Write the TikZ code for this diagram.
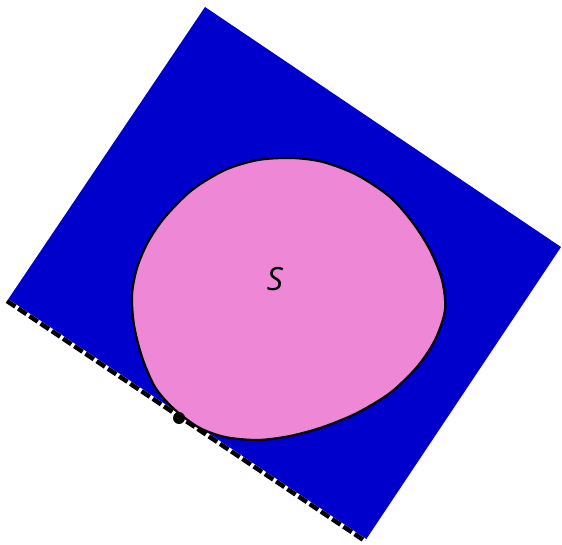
\documentclass[tikz,border=0pt]{standalone}
\usepackage{fontspec}
\setsansfont{Open Sans}
\definecolor{halfblue}{HTML}{0000CC}
\definecolor{setpink}{HTML}{EE88D6}

\begin{document}
\begin{tikzpicture}[x=1pt,y=-1pt,
  halfplane/.style={fill=halfblue,draw=none},
  edgeline/.style={line width=4.5pt,dash pattern=on 10pt off 3.5pt},
  setregion/.style={fill=setpink,draw=black,line width=2.2pt},
  touchdot/.style={circle,fill=black,inner sep=0pt,minimum size=12pt},
  setlabel/.style={font=\sffamily\itshape\fontsize{32}{34}\selectfont,inner sep=0pt}]
  \useasboundingbox (0,0) rectangle (562,545);
  \coordinate (top) at (205,7);
  \coordinate (right) at (561,247);
  \coordinate (bottom) at (365,541);
  \coordinate (left) at (7,301);
  \fill[halfplane] (top)--(right)--(bottom)--(left)--cycle;
  \draw[white,line width=4.5pt] (left)--(bottom);
  \draw[edgeline] (left)--(bottom);
  % the set S, touching the dashed edge
  \draw[setregion] plot[smooth cycle,tension=0.5] coordinates {
    (292,158) (323,162) (357,175) (390,197) (413,223) (430,250) (442,280)
    (445,310) (435,340) (417,367) (390,393) (357,413) (323,427) (290,436)
    (258,440) (225,437) (198,427) (173,408) (155,387) (142,357) (134,325)
    (132,295) (137,268) (148,242) (165,217) (192,190) (225,170) (258,160)};
  \node[touchdot] (p) at (179,418) {};
  \node[setlabel] (s) at (275,279) {S};
\end{tikzpicture}
\end{document}
